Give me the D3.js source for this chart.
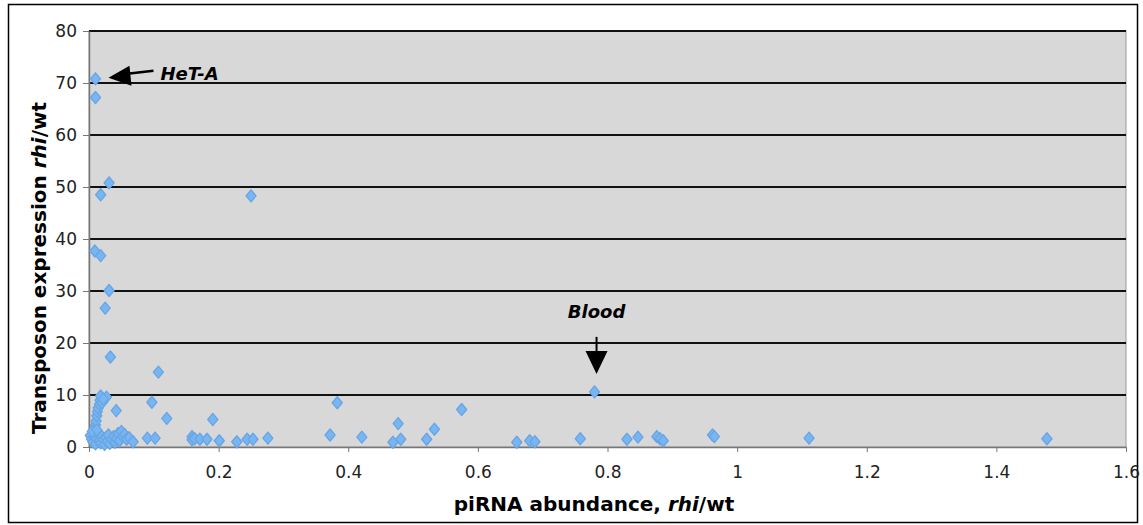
<!DOCTYPE html>
<html>
<head>
<meta charset="utf-8">
<script src="https://cdn.jsdelivr.net/npm/d3@7"></script>
<style>
  body { margin: 0; background: #fff; }
  text { font-family: "DejaVu Sans", Verdana, sans-serif; }
</style>
</head>
<body>
<div id="chart"></div>
<script>
// data
const piRNA = [
  0.010, 0.010, 0.031, 0.018, 0.250, 0.009, 0.018, 0.031, 0.025, 0.033, 0.107,
  0.097, 0.120, 0.042, 0.027,
  0.010, 0.011, 0.012, 0.013, 0.014, 0.016, 0.017, 0.018, 0.020, 0.022,
  0.002, 0.004, 0.006, 0.008, 0.010, 0.012, 0.014, 0.016, 0.018, 0.020, 0.022, 0.024,
  0.026, 0.028, 0.030, 0.032, 0.035, 0.038, 0.040, 0.042, 0.045, 0.047, 0.050, 0.052,
  0.055, 0.058, 0.062, 0.068, 0.005, 0.012, 0.090, 0.102,
  0.159, 0.159, 0.163, 0.171, 0.182, 0.191, 0.201, 0.228, 0.244, 0.253, 0.276,
  0.372, 0.383, 0.421, 0.469, 0.477, 0.481, 0.521, 0.533, 0.575,
  0.660, 0.680, 0.688, 0.758, 0.780, 0.830, 0.847, 0.876, 0.881, 0.886,
  0.962, 0.965, 1.111, 1.478
];
const expression = [
  70.8, 67.2, 50.8, 48.5, 48.3, 37.7, 36.8, 30.1, 26.7, 17.3, 14.4,
  8.6, 5.5, 7.0, 9.6,
  4.2, 5.0, 6.0, 6.8, 7.5, 8.2, 9.0, 9.8, 8.5, 9.2,
  2.2, 1.5, 1.0, 2.0, 0.6, 1.5, 2.5, 1.2, 0.8, 2.0, 1.4, 0.5,
  1.8, 1.0, 2.3, 0.7, 1.5, 2.0, 0.9, 1.6, 2.6, 1.2, 3.0, 2.0,
  2.4, 1.5, 1.8, 1.0, 3.0, 3.3, 1.7, 1.7,
  2.0, 1.4, 1.6, 1.5, 1.5, 5.3, 1.2, 1.0, 1.5, 1.5, 1.7,
  2.3, 8.5, 1.9, 0.9, 4.5, 1.5, 1.5, 3.4, 7.2,
  0.9, 1.2, 1.0, 1.6, 10.6, 1.5, 1.9, 2.0, 1.6, 1.2,
  2.3, 2.0, 1.7, 1.6
];
const xTicks = [0, 0.2, 0.4, 0.6, 0.8, 1, 1.2, 1.4, 1.6];
const yTicks = [0, 10, 20, 30, 40, 50, 60, 70, 80];
const labelHetA = { name: 'HeT-A', x: 0.01, y: 71 };
const labelBlood = { name: 'Blood', x: 0.78, y: 10.6 };

const points = piRNA.map((d, i) => ({ x: d, y: expression[i] }));

const width = 1143;
const height = 525;
const margin = { top: 31, right: 17, bottom: 78, left: 89 };
const plotW = width - margin.right - margin.left;
const plotH = 447 - margin.top;

const svg = d3.select('#chart').append('svg')
  .attr('width', width).attr('height', height);

// outer frame
svg.append('rect')
  .attr('x', 8.5).attr('y', 4.5).attr('width', 1129).attr('height', 518)
  .attr('fill', 'none').attr('stroke', '#000').attr('stroke-width', 1.5);

const g = svg.append('g').attr('transform', `translate(${margin.left},${margin.top})`);

const xScale = d3.scaleLinear([0, 1.6], [0, plotW]);
const yScale = d3.scaleLinear([0, 80], [plotH, 0]);

g.append('rect').attr('width', plotW).attr('height', plotH)
  .attr('fill', '#d8d8d8').attr('stroke', '#9a9a9a').attr('stroke-width', 1);

// gridlines
g.append('g').selectAll('line').data(yTicks.filter(d => d > 0)).join('line')
  .attr('x1', 0).attr('x2', plotW)
  .attr('y1', d => yScale(d)).attr('y2', d => yScale(d))
  .attr('stroke', '#111').attr('stroke-width', 2);

// axes
const xAxis = d3.axisBottom(xScale).tickValues(xTicks).tickSize(5).tickSizeOuter(0)
  .tickFormat(d3.format('~g'));
const yAxis = d3.axisLeft(yScale).tickValues(yTicks).tickSize(6).tickSizeOuter(0);

const xAxisDraw = g.append('g').attr('transform', `translate(0,${plotH})`).call(xAxis);
const yAxisDraw = g.append('g').call(yAxis);
[xAxisDraw, yAxisDraw].forEach(a => {
  a.select('.domain').attr('stroke', '#777').attr('stroke-width', 1.5);
  a.selectAll('.tick line').attr('stroke', '#777');
  a.selectAll('text').attr('fill', '#222').style('font-size', '17px')
    .style('font-family', '"DejaVu Sans", Verdana, sans-serif');
});
xAxisDraw.selectAll('text').attr('dy', '0.71em').attr('y', 19);
yAxisDraw.selectAll('text').attr('x', -12);

// points - Excel style diamonds, a little wider than d3's
const diamond = 'M0,-6 L5,0 L0,6 L-5,0 Z';
g.append('g').selectAll('path').data(points).join('path')
  .attr('transform', d => `translate(${xScale(d.x)},${yScale(d.y)})`)
  .attr('d', diamond)
  .attr('fill', '#78b6f3')
  .attr('stroke', '#6aa6e4').attr('stroke-width', 1.4).attr('stroke-linejoin', 'round');

// annotations
const hx = xScale(labelHetA.x), hy = yScale(labelHetA.y) + 1;
g.append('line')
  .attr('x1', hx + 32).attr('y1', hy - 5).attr('x2', hx + 58).attr('y2', hy - 8)
  .attr('stroke', '#000').attr('stroke-width', 2.5);
g.append('path')
  .attr('d', `M${hx + 13},${hy - 1} L${hx + 34},${hy - 13} L${hx + 36},${hy + 7} Z`)
  .attr('fill', '#000');
g.append('text').attr('x', hx + 65).attr('y', hy + 1)
  .style('font-size', '18px').style('font-weight', 'bold').style('font-style', 'italic')
  .text(labelHetA.name);

const bx = xScale(labelBlood.x) + 2, by = yScale(labelBlood.y);
g.append('line')
  .attr('x1', bx).attr('x2', bx).attr('y1', by - 55).attr('y2', by - 38)
  .attr('stroke', '#000').attr('stroke-width', 2);
g.append('path')
  .attr('d', `M${bx - 11},${by - 41} L${bx + 11},${by - 41} L${bx},${by - 18} Z`)
  .attr('fill', '#000');
g.append('text').attr('x', bx).attr('y', by - 74).attr('text-anchor', 'middle')
  .style('font-size', '18px').style('font-weight', 'bold').style('font-style', 'italic')
  .text(labelBlood.name);

// axis titles
const xTitle = svg.append('text')
  .attr('x', 594).attr('y', 511).attr('text-anchor', 'middle')
  .style('font-size', '20px').style('font-weight', 'bold');
xTitle.append('tspan').text('piRNA abundance, ');
xTitle.append('tspan').style('font-style', 'italic').text('rhi');
xTitle.append('tspan').text('/wt');

const yTitle = svg.append('text')
  .attr('transform', `translate(46,268) rotate(-90)`)
  .attr('text-anchor', 'middle')
  .style('font-size', '20px').style('font-weight', 'bold');
yTitle.append('tspan').text('Transposon expression ');
yTitle.append('tspan').style('font-style', 'italic').text('rhi');
yTitle.append('tspan').text('/wt');
</script>
</body>
</html>
